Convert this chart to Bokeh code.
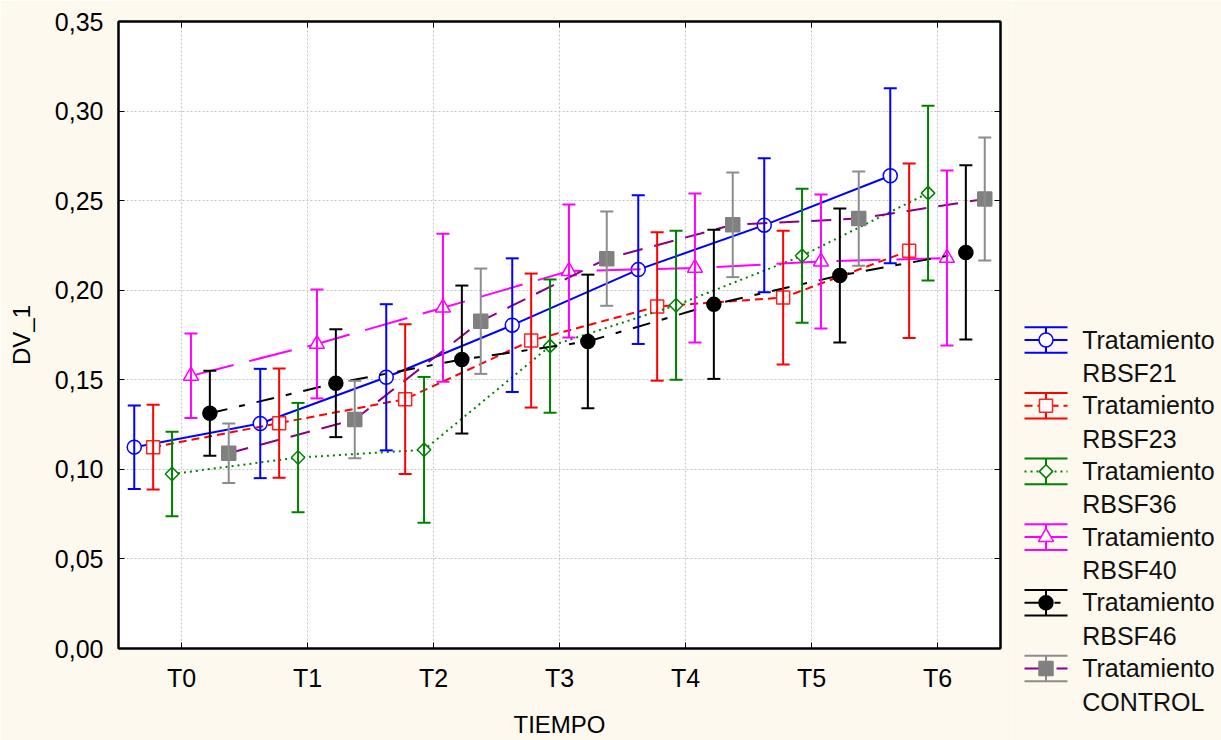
import math
from bokeh.plotting import figure
from bokeh.models import (ColumnDataSource, FactorRange, Range1d, Whisker, TeeHead, FixedTicker,
                          CustomJSTickFormatter, LinearAxis, CategoricalAxis, CustomLabelingPolicy)
from bokeh.transform import dodge
from bokeh.layouts import row
from bokeh.embed import file_html
from bokeh.resources import INLINE
from bokeh.core.properties import value

# ---------------- data ----------------
categories = ["T0", "T1", "T2", "T3", "T4", "T5", "T6"]
series_names = ["RBSF21", "RBSF23", "RBSF36", "RBSF40", "RBSF46", "CONTROL"]
legend_prefix = "Tratamiento"
x_title = "TIEMPO"
y_title = "DV_1"

mean_rbsf21 = [0.1124, 0.1256, 0.1514, 0.1805, 0.2115, 0.2363, 0.2639]
err_rbsf21 = [0.0233, 0.0305, 0.0408, 0.0373, 0.0415, 0.0374, 0.0488]
mean_rbsf23 = [0.1124, 0.1258, 0.1392, 0.1719, 0.1909, 0.1959, 0.2220]
err_rbsf23 = [0.0236, 0.0305, 0.0418, 0.0374, 0.0414, 0.0373, 0.0487]
mean_rbsf36 = [0.0974, 0.1066, 0.1109, 0.1688, 0.1916, 0.2192, 0.2542]
err_rbsf36 = [0.0236, 0.0305, 0.0407, 0.0372, 0.0416, 0.0374, 0.0488]
mean_rbsf40 = [0.1522, 0.1700, 0.1902, 0.2107, 0.2124, 0.2160, 0.2180]
err_rbsf40 = [0.0236, 0.0304, 0.0413, 0.0371, 0.0416, 0.0374, 0.0488]
mean_rbsf46 = [0.1313, 0.1481, 0.1613, 0.1714, 0.1921, 0.2082, 0.2211]
err_rbsf46 = [0.0237, 0.0301, 0.0413, 0.0373, 0.0416, 0.0374, 0.0486]
mean_control = [0.1090, 0.1278, 0.1827, 0.2176, 0.2365, 0.2400, 0.2509]
err_control = [0.0166, 0.0216, 0.0294, 0.0263, 0.0292, 0.0263, 0.0343]

y_ticks = [0.0, 0.05, 0.1, 0.15, 0.2, 0.25, 0.3, 0.35]
y_tick_labels = ["0,00", "0,05", "0,10", "0,15", "0,20", "0,25", "0,30", "0,35"]

means = [mean_rbsf21, mean_rbsf23, mean_rbsf36, mean_rbsf40, mean_rbsf46, mean_control]
errs = [err_rbsf21, err_rbsf23, err_rbsf36, err_rbsf40, err_rbsf46, err_control]

# ---------------- styles ----------------
FONT = "Liberation Sans"
BG = "#FEF9EF"
styles = [
    dict(err="#0000FF", line="#0000FF", mline="#0000FF", marker="circle", fill="white", dash="solid", size=14, angle=0.0),
    dict(err="#FF0000", line="#FF0000", mline="#FF2020", marker="square", fill="white", dash="8 5", size=13, angle=0.0),
    dict(err="#008000", line="#008000", mline="#008000", marker="square", fill="white", dash="2 4", size=9.5, angle=math.pi / 4),
    dict(err="#FF00FF", line="#FF00FF", mline="#FF00FF", marker="triangle", fill="white", dash="44 16", size=15, angle=0.0),
    dict(err="#000000", line="#000000", mline="#000000", marker="circle", fill="#000000", dash="18 12 6 12", size=14, angle=0.0),
    dict(err="#8C8C8C", line="#880088", mline="#808080", marker="square", fill="#808080", dash="20 12", size=14, angle=0.0),
]
offsets = [-0.375, -0.225, -0.075, 0.075, 0.225, 0.375]

W_MAIN, H = 1012, 740
# ---------------- main figure ----------------
p = figure(x_range=FactorRange(factors=categories), y_range=Range1d(0, 0.35),
           width=W_MAIN, height=H, output_backend="svg", toolbar_location=None,
           min_border_left=118, min_border_right=12, min_border_top=21, min_border_bottom=92,
           background_fill_color="white", border_fill_color=BG,
           outline_line_color="black", outline_line_width=2)
p.frame_align = False

p.yaxis.ticker = FixedTicker(ticks=y_ticks)
p.yaxis.formatter = CustomJSTickFormatter(args=dict(yvals=y_ticks, ylabs=y_tick_labels), code="""
    for (let i = 0; i < yvals.length; i++) { if (Math.abs(yvals[i] - tick) < 1e-9) return ylabs[i]; }
    return '';
""")
p.xaxis.axis_label = x_title
p.yaxis.axis_label = y_title

for ax in (p.xaxis[0], p.yaxis[0]):
    ax.axis_line_color = "black"
    ax.axis_line_width = 2
    ax.major_tick_in = 6
    ax.major_tick_out = 0
    ax.minor_tick_line_color = None
    ax.major_tick_line_color = "black"
    ax.major_label_text_font = FONT
    ax.major_label_text_font_size = "25px"
    ax.major_label_text_color = "black"
    ax.axis_label_text_font = FONT
    ax.axis_label_text_font_size = "24px"
    ax.axis_label_text_font_style = "normal"
    ax.axis_label_text_color = "black"

p.yaxis.major_label_standoff = 15
p.yaxis.axis_label_standoff = 17
p.xaxis.major_label_standoff = 15
p.xaxis.axis_label_standoff = 16

hide_code = "return new indices.constructor(indices.size, 0);"
right_ax = LinearAxis(ticker=FixedTicker(ticks=y_ticks),
                      major_label_policy=CustomLabelingPolicy(code=hide_code),
                      major_label_text_font_size="1px",
                      major_label_standoff=0, major_tick_in=6, major_tick_out=0,
                      minor_tick_line_color=None, axis_line_color="black", axis_line_width=2)
p.add_layout(right_ax, "right")
top_ax = CategoricalAxis(major_label_policy=CustomLabelingPolicy(code=hide_code),
                         major_label_text_font_size="1px", major_label_standoff=0,
                         major_tick_in=6, major_tick_out=0, axis_line_color="black", axis_line_width=2)
p.add_layout(top_ax, "above")

p.xgrid.grid_line_color = "#c4c4c4"
p.xgrid.grid_line_dash = "2 2"
p.ygrid.grid_line_color = "#c4c4c4"
p.ygrid.grid_line_dash = "2 2"

for name, m, e, st, off in zip(series_names, means, errs, styles, offsets):
    src = ColumnDataSource(dict(
        x=categories, y=m,
        upper=[a + b for a, b in zip(m, e)],
        lower=[a - b for a, b in zip(m, e)],
    ))
    xs = dodge("x", off, range=p.x_range)
    p.line(x=xs, y="y", source=src, line_color=st["line"], line_width=2, line_dash=st["dash"])
    w = Whisker(base=dodge("x", off, range=p.x_range), upper="upper", lower="lower", source=src,
                line_color=st["err"], line_width=2, level="glyph",
                upper_head=TeeHead(size=13, line_color=st["err"], line_width=2),
                lower_head=TeeHead(size=13, line_color=st["err"], line_width=2))
    p.add_layout(w)
    p.scatter(x=dodge("x", off, range=p.x_range), y="y", source=src, marker=st["marker"],
              size=st["size"], angle=st["angle"], fill_color=st["fill"], line_color=st["mline"],
              line_width=1.5)

# ---------------- legend panel ----------------
LW = 1221 - W_MAIN
leg = figure(width=LW, height=H, x_range=Range1d(0, LW), y_range=Range1d(H, 0),
             x_axis_type=None, y_axis_type=None, toolbar_location=None, output_backend="svg",
             min_border=0, outline_line_color=None,
             background_fill_color=BG, border_fill_color=BG)
leg.frame_align = False

icon_x0, icon_x1 = 12, 55
icon_xc = (icon_x0 + icon_x1) / 2
first_cy, step, half = 339.5, 65.7, 12.8
text_x = 69.7
for i, (name, st) in enumerate(zip(series_names, styles)):
    cy = first_cy + step * i
    leg.segment(x0=[icon_x0, icon_x0, icon_xc], y0=[cy - half, cy + half, cy - half],
                x1=[icon_x1, icon_x1, icon_xc], y1=[cy - half, cy + half, cy + half],
                line_color=st["err"], line_width=2)
    leg.line(x=[icon_x0, icon_x1], y=[cy, cy], line_color=st["line"], line_width=2, line_dash=st["dash"])
    leg.scatter(x=[icon_xc], y=[cy], marker=st["marker"], size=st["size"], angle=-st["angle"],
                fill_color=st["fill"], line_color=st["mline"], line_width=1.5)
    leg.text(x=[text_x, text_x], y=[cy - 0.5, cy + 33], text=[legend_prefix, name],
             text_font=value(FONT), text_font_size="25px", text_color="#111111",
             text_baseline="alphabetic", text_align="left")

layout = row(p, leg)
open("out.html", "w").write(file_html(layout, INLINE))
